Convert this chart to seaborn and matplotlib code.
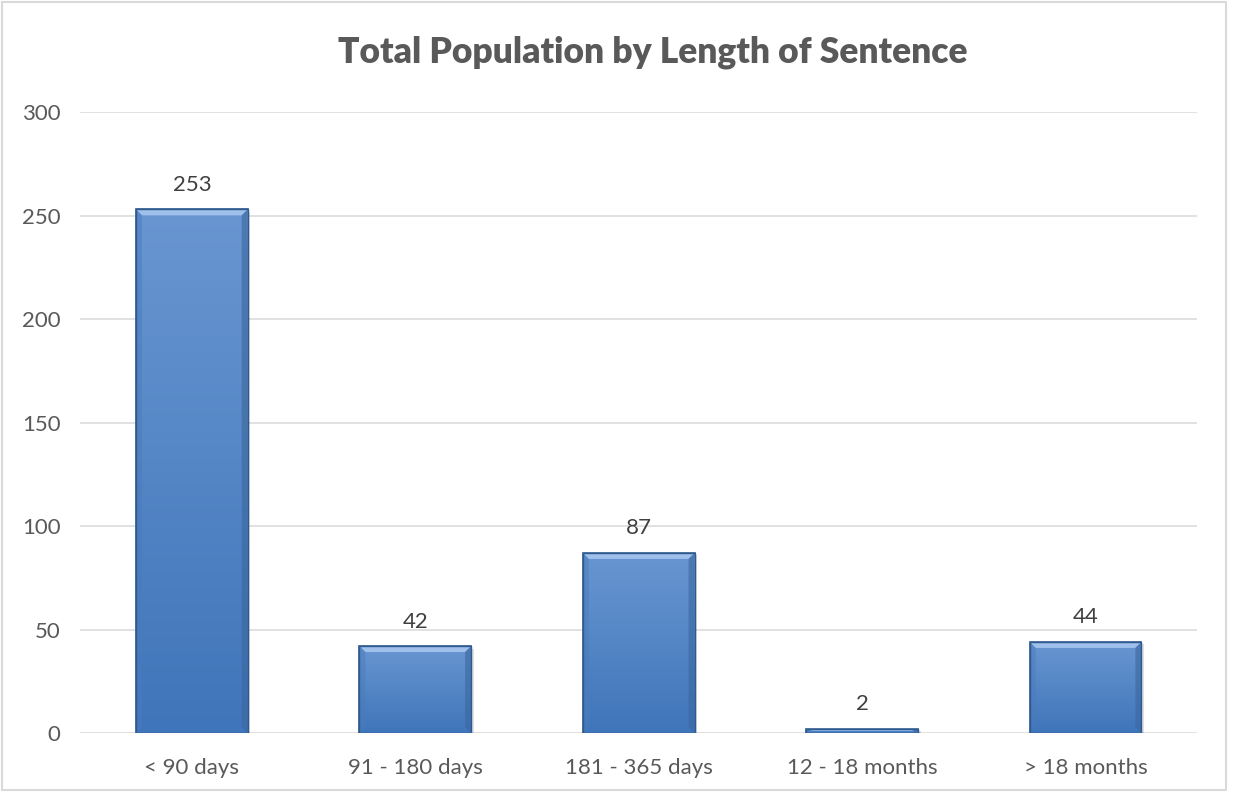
import numpy as np
import pandas as pd
import seaborn as sns
import matplotlib.pyplot as plt
from matplotlib.patches import Rectangle, Polygon

categories = ["< 90 days", "91 - 180 days", "181 - 365 days", "12 - 18 months", "> 18 months"]
population = [253, 42, 87, 2, 44]

df = pd.DataFrame({"Sentence": categories, "Population": population})

sns.set_theme(style="white")
plt.rcParams['font.family'] = ['Lato', 'DejaVu Sans']

fig = plt.figure(figsize=(12.33, 7.92), dpi=100)
ax = fig.add_axes([0.065, 0.0745, 0.906, 0.784])

sns.barplot(data=df, x="Sentence", y="Population", color="#4f81bd", width=0.5, ax=ax,
            edgecolor="#2f5a8f", linewidth=1.2, zorder=3)

ax.set_ylim(0, 300)
ax.set_xlim(-0.5, len(categories) - 0.5)
ax.set_yticks(range(0, 301, 50))
ax.yaxis.grid(True, color="#d9d9d9", linewidth=1.1, zorder=0)
ax.set_axisbelow(True)
for s in ax.spines.values():
    s.set_visible(False)

# bevel size in data units (approx 6 px)
bx = 6 / (fig.get_figwidth() * 100 * 0.906 / len(categories))
by = 6 / (fig.get_figheight() * 100 * 0.784 / 300)

grad = np.linspace(0, 1, 256).reshape(-1, 1)
cmap = sns.blend_palette(["#3f75ba", "#6996d1"], as_cmap=True)
for p in ax.patches:
    x0, y0 = p.get_x(), p.get_y()
    w, h = p.get_width(), p.get_height()
    im = ax.imshow(grad, cmap=cmap, aspect="auto", origin="lower",
                   extent=[x0, x0 + w, y0, y0 + h], zorder=3.5)
    im.set_clip_path(p)
    b = min(by, h / 2)
    # top bevel (light)
    ax.add_patch(Polygon([(x0, y0 + h), (x0 + w, y0 + h), (x0 + w - bx, y0 + h - b),
                          (x0 + bx, y0 + h - b)], closed=True, facecolor="#9fc0ea",
                         edgecolor="none", zorder=3.6))
    # side bevels (darker)
    ax.add_patch(Polygon([(x0 + w, y0 + h), (x0 + w, y0), (x0 + w - bx, y0 + b),
                          (x0 + w - bx, y0 + h - b)], closed=True, facecolor="#3a679f",
                         edgecolor="none", alpha=0.6, zorder=3.6))
    ax.add_patch(Polygon([(x0, y0 + h), (x0, y0), (x0 + bx, y0 + b),
                          (x0 + bx, y0 + h - b)], closed=True, facecolor="#4a7cbc",
                         edgecolor="none", alpha=0.5, zorder=3.6))
    ax.add_patch(Rectangle((x0, y0), w, h, facecolor="none", edgecolor="#2f5a8f",
                           linewidth=1.0, zorder=3.8))
    # shadow
    ax.add_patch(Rectangle((x0 + 0.012, y0 - 1.2), w, h, facecolor="#000000", alpha=0.12,
                           edgecolor="none", zorder=2.9))
    ax.text(x0 + w / 2, y0 + h + 7, f"{int(round(h))}", ha="center", va="bottom",
            fontsize=16, color="#404040", zorder=5)

ax.set_xlim(-0.5, len(categories) - 0.5)
ax.set_ylim(0, 300)
ax.set_xlabel("")
ax.set_ylabel("")
ax.tick_params(axis="both", length=0, labelsize=16, labelcolor="#595959")
ax.tick_params(axis="x", pad=18)
ax.tick_params(axis="y", pad=14)

fig.text(0.529, 0.934, "Total Population by Length of Sentence", ha="center", va="center",
         fontsize=25.5, fontweight="heavy", color="#595959")

fig.add_artist(Rectangle((0.002, 0.002), 0.992, 0.995, transform=fig.transFigure,
                         facecolor="none", edgecolor="#d9d9d9", linewidth=1.5))

fig.savefig("out.png", dpi=100)
